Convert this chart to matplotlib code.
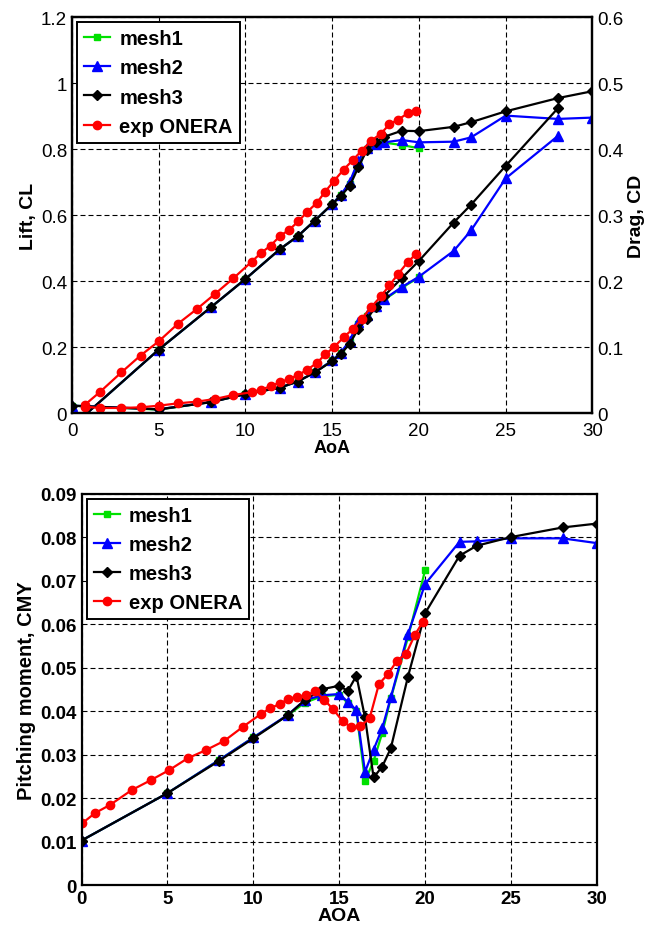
"""Lift/drag and pitching moment vs angle of attack: three meshes against ONERA experiment."""

import numpy as np
import matplotlib
matplotlib.use("Agg")
import matplotlib.pyplot as plt

plt.rcParams["font.family"] = ["Liberation Sans", "DejaVu Sans"]

# CFD angles of attack (mesh2 / mesh3 go to 30, mesh1 stops at 20)
aoa_cfd = [0, 5, 8, 10, 12, 13, 14, 15, 15.5, 16, 16.5, 17, 17.5, 18, 19, 20, 22, 23, 25, 28, 30]
aoa_mesh1 = aoa_cfd[:16]

cl_mesh1 = [-0.04, 0.193, 0.321, 0.407, 0.498, 0.536, 0.584, 0.634, 0.662, 0.695, 0.76, 0.80,
            0.815, 0.82, 0.813, 0.803]
cl_mesh2 = [-0.04, 0.193, 0.321, 0.407, 0.498, 0.536, 0.584, 0.634, 0.662, 0.70, 0.765, 0.805,
            0.815, 0.821, 0.828, 0.821, 0.823, 0.836, 0.902, 0.892, 0.896]
cl_mesh3 = [-0.04, 0.193, 0.321, 0.407, 0.498, 0.536, 0.584, 0.634, 0.659, 0.688, 0.745, 0.798,
            0.821, 0.838, 0.856, 0.855, 0.868, 0.882, 0.915, 0.955, 0.976]

cd_mesh1 = [0.0115, 0.0055, 0.017, 0.029, 0.039, 0.048, 0.062, 0.08, 0.092, 0.108, 0.135, 0.147,
            0.16, 0.172, 0.19, 0.206]
cd_mesh2 = [0.0115, 0.006, 0.017, 0.029, 0.039, 0.048, 0.062, 0.08, 0.092, 0.11, 0.138, 0.149,
            0.162, 0.173, 0.191, 0.207, 0.246, 0.277, 0.356, 0.42, np.nan]
cd_mesh3 = [0.0115, 0.006, 0.0167, 0.029, 0.039, 0.048, 0.062, 0.079, 0.09, 0.105, 0.128, 0.143,
            0.161, 0.178, 0.2045, 0.231, 0.289, 0.316, 0.375, 0.462, np.nan]

cmy_mesh1 = [0.0103, 0.0212, 0.0288, 0.034, 0.0391, 0.042, 0.0435, 0.0438, 0.042, 0.040, 0.024,
             0.0286, 0.035, 0.043, 0.057, 0.0725]
cmy_mesh2 = [0.0103, 0.0212, 0.0288, 0.034, 0.0392, 0.0426, 0.0437, 0.044, 0.0422, 0.0403, 0.0261,
             0.0312, 0.0361, 0.0432, 0.0578, 0.0693, 0.079, 0.0791, 0.0798, 0.0798, 0.0787]
cmy_mesh3 = [0.0103, 0.0212, 0.0286, 0.0338, 0.0391, 0.0426, 0.0451, 0.0459, 0.0447, 0.0482, 0.0386,
             0.0248, 0.0273, 0.0315, 0.048, 0.0626, 0.0758, 0.0781, 0.0801, 0.0823, 0.0832]

# ONERA wind tunnel
aoa_exp_force = [0.75, 1.6, 2.85, 3.95, 5.0, 6.1, 7.2, 8.25, 9.3, 10.35, 10.9, 11.45, 12.0, 12.5,
                 13.05, 13.55, 14.1, 14.6, 15.1, 15.65, 16.2, 16.7, 17.25, 17.8, 18.3, 18.8,
                 19.35, 19.85]
cl_exp = [0.026, 0.064, 0.124, 0.175, 0.218, 0.271, 0.316, 0.362, 0.409, 0.459, 0.486, 0.508,
          0.538, 0.555, 0.582, 0.61, 0.637, 0.672, 0.704, 0.738, 0.768, 0.796, 0.826, 0.847,
          0.876, 0.89, 0.909, 0.917]
cd_exp = [0.010, 0.008, 0.008, 0.009, 0.0115, 0.015, 0.0176, 0.0217, 0.0277, 0.0318, 0.0358,
          0.041, 0.047, 0.052, 0.058, 0.066, 0.0758, 0.0894, 0.1, 0.115, 0.128, 0.143, 0.161,
          0.177, 0.194, 0.211, 0.229, 0.242]

aoa_exp_moment = [0.05, 0.78, 1.66, 2.92, 4.04, 5.1, 6.17, 7.24, 8.3, 9.41, 10.44, 10.96, 11.54,
                  12.0, 12.55, 13.07, 13.6, 14.12, 14.64, 15.19, 15.71, 16.23, 16.77, 17.31,
                  17.84, 18.37, 18.9, 19.39, 19.87]
cmy_exp = [0.0143, 0.0166, 0.0185, 0.0219, 0.0242, 0.0265, 0.0292, 0.0311, 0.0332, 0.0365, 0.0394,
           0.0407, 0.0417, 0.0428, 0.0434, 0.0437, 0.0446, 0.0427, 0.0405, 0.0378, 0.0363, 0.0366,
           0.0384, 0.0463, 0.0486, 0.0517, 0.0533, 0.0575, 0.0606]

labels = ["mesh1", "mesh2", "mesh3", "exp ONERA"]

STYLE = {
    "mesh1": dict(color="#00e000", marker="s", markersize=5),
    "mesh2": dict(color="#0000ff", marker="^", markersize=6.5),
    "mesh3": dict(color="black", marker="D", markersize=5.5),
    "exp ONERA": dict(color="#ff0000", marker="o", markersize=6),
}
LW = 1.6
GRID_LS = (0, (4.5, 2.7))


def _style_axes(ax):
    ax.grid(True, color="black", linestyle=GRID_LS, linewidth=0.8)
    ax.tick_params(direction="in", length=0, labelsize=13.5)
    for sp in ax.spines.values():
        sp.set_linewidth(1.6)


def _legend(ax, handles):
    leg = ax.legend(handles, labels, loc="upper left", borderaxespad=0.25, fancybox=False,
                    framealpha=1, edgecolor="black", handlelength=1.3, handletextpad=0.45,
                    labelspacing=0.5, borderpad=0.35, prop=dict(weight="bold", size=14.5))
    leg.get_frame().set_linewidth(1.4)


fig = plt.figure(figsize=(6.51, 9.28), dpi=100)

# ---- lift & drag ----
ax = fig.add_axes([0.1106, 0.5536, 0.7995, 0.4267])
ax2 = ax.twinx()
series_cl = [(aoa_mesh1, cl_mesh1), (aoa_cfd, cl_mesh2), (aoa_cfd, cl_mesh3), (aoa_exp_force, cl_exp)]
series_cd = [(aoa_mesh1, cd_mesh1), (aoa_cfd, cd_mesh2), (aoa_cfd, cd_mesh3), (aoa_exp_force, cd_exp)]
handles = []
for name, (x, y) in zip(labels, series_cl):
    h, = ax.plot(x, y, linewidth=LW, **STYLE[name])
    handles.append(h)
for name, (x, y) in zip(labels, series_cd):
    ax2.plot(x, y, linewidth=LW, **STYLE[name])

ax.set_xlim(0, 30)
ax.set_ylim(0, 1.2)
ax2.set_ylim(0, 0.6)
ax.set_xticks(range(0, 31, 5))
ax.set_yticks(np.arange(0, 1.21, 0.2))
ax.set_yticklabels(["0", "0.2", "0.4", "0.6", "0.8", "1", "1.2"])
ax2.set_yticks(np.arange(0, 0.61, 0.1))
ax2.set_yticklabels(["0", "0.1", "0.2", "0.3", "0.4", "0.5", "0.6"])
_style_axes(ax)
ax.tick_params(axis="x", pad=6)
ax2.tick_params(direction="in", length=0, labelsize=13.5)
for sp in ax2.spines.values():
    sp.set_linewidth(1.6)
ax.set_xlabel("AoA", fontsize=13, fontweight="bold", labelpad=0.5)
ax.set_ylabel("Lift, CL", fontsize=14, fontweight="bold", labelpad=3)
ax2.set_ylabel("Drag, CD", fontsize=14, fontweight="bold", labelpad=3)
_legend(ax2, handles)

# ---- pitching moment ----
bx = fig.add_axes([0.1252, 0.0449, 0.7918, 0.4217])
series_cm = [(aoa_mesh1, cmy_mesh1), (aoa_cfd, cmy_mesh2), (aoa_cfd, cmy_mesh3),
             (aoa_exp_moment, cmy_exp)]
handles = []
for name, (x, y) in zip(labels, series_cm):
    h, = bx.plot(x, y, linewidth=LW, **STYLE[name])
    handles.append(h)

bx.set_xlim(0, 30)
bx.set_ylim(0, 0.09)
bx.set_xticks(range(0, 31, 5))
bx.set_yticks(np.arange(0, 0.091, 0.01))
bx.set_yticklabels(["0"] + [f"{v:.2f}" for v in np.arange(0.01, 0.091, 0.01)])
_style_axes(bx)
for t in bx.get_xticklabels() + bx.get_yticklabels():
    t.set_fontweight("bold")
bx.set_xlabel("AOA", fontsize=14, fontweight="bold", labelpad=0)
bx.set_ylabel("Pitching moment, CMY", fontsize=14.5, fontweight="bold", labelpad=3)
_legend(bx, handles)

fig.savefig("out.png", dpi=100)
plt.close(fig)
